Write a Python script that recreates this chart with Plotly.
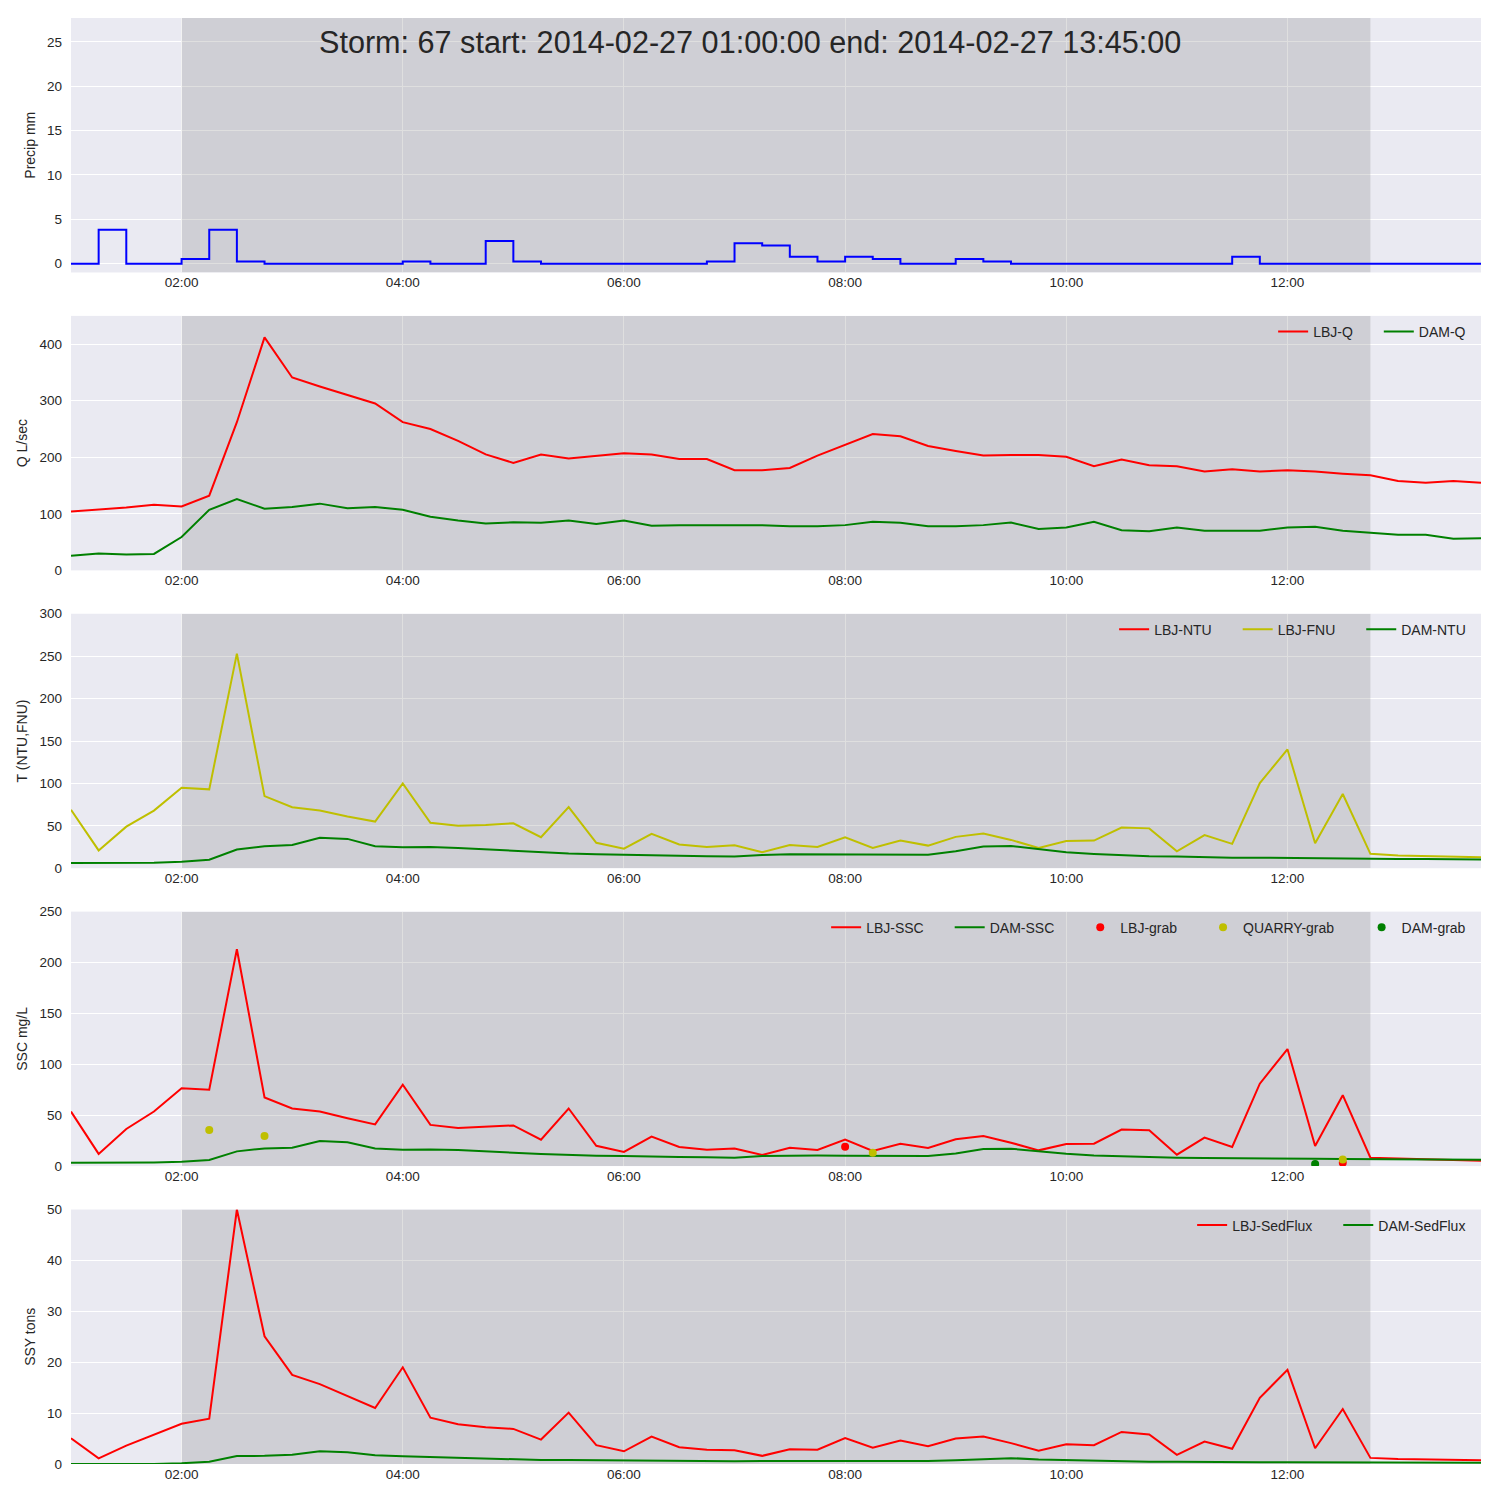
import pandas as pd
import plotly.graph_objects as go
from plotly.subplots import make_subplots

# 15 minute storm data, 2014-02-27 01:00 -> 13:45
times = pd.date_range('2014-02-27 01:00', '2014-02-27 13:45', freq='15min')

precip = [0, 3.81, 0, 0, 0.508, 3.81, 0.254, 0, 0, 0, 0, 0,
          0.254, 0, 0, 2.54, 0.254, 0, 0, 0, 0, 0, 0, 0.254,
          2.286, 2.032, 0.762, 0.254, 0.762, 0.508, 0, 0, 0.508, 0.254, 0, 0,
          0, 0, 0, 0, 0, 0, 0.762, 0, 0, 0, 0, 0, 0, 0, 0, 0]

lbj_q = [104, 107.5, 111, 116, 113, 132, 262, 412, 341, 325, 310, 295,
         262, 250, 229, 205, 190, 205, 198, 203, 207, 205, 197, 197,
         177, 177, 181, 203, 222, 241, 237, 220, 211, 203, 204, 204,
         201, 184, 196, 186, 184, 175, 179, 175, 177, 175, 171, 168,
         158, 155, 158, 155]
dam_q = [26, 30, 28, 29, 59, 107, 126, 109, 112, 118, 110, 112,
         107, 95, 88, 83, 85, 84, 88, 82, 88, 79, 80, 80,
         81, 80, 78, 78, 80, 86, 84, 78, 78, 80, 84.5, 73,
         76, 86, 71, 69, 76, 70, 70, 70, 76, 77, 70, 67,
         63, 63, 56, 57]

lbj_ntu = [None] * len(times)
lbj_fnu = [69, 21, 49, 68, 95, 93, 253, 85, 72, 68, 61, 55,
           100, 53.5, 50, 51, 53, 36.6, 72, 30, 23, 40.5, 28, 25,
           27, 19, 27.5, 25, 36.6, 24, 32.6, 26.7, 37, 41, 33.4, 24,
           32, 32.6, 48, 47, 20, 39, 28.7, 100.5, 140, 29.5, 87.5, 17,
           15, 14.5, 14, 13]
dam_ntu = [6.2, 6.2, 6.2, 6.6, 7.8, 10, 22, 26, 27.5, 36, 34.6, 26,
           24.7, 25, 24, 22.4, 20.4, 18.4, 17.3, 16.5, 15.7, 14.9, 14, 14,
           13.7, 15.7, 16.5, 16.5, 16.5, 15.7, 15.7, 16, 20, 25.5, 26.3, 22.8,
           19, 16.9, 15.3, 14, 13.7, 12.9, 12.5, 12.5, 12.1, 11.7, 11.3, 11.3,
           11, 11, 10.6, 10.2]

lbj_ssc = [53.6, 12, 36.5, 53.6, 76.6, 75, 213, 67.4, 56.6, 53.6, 47, 41,
           80, 40.5, 37.5, 38.5, 40, 26, 56.6, 20, 14, 29, 18.8, 16,
           17.4, 10.9, 18, 15.8, 26, 15, 22, 17.8, 26.3, 29.6, 23, 15.5,
           21.7, 22, 35.9, 35.2, 11.2, 28, 18.8, 81, 115, 19.7, 69.7, 8.2,
           7.2, 6.6, 5.9, 5.3]
dam_ssc = [3.3, 3.3, 3.3, 3.6, 4.3, 6, 14.5, 17.4, 18, 24.7, 23.4, 17.4,
           16, 16.4, 15.8, 14.8, 13.2, 11.8, 10.9, 10.2, 9.9, 9.2, 8.9, 8.6,
           8.2, 9.9, 10.5, 10.5, 10.2, 9.9, 9.5, 9.9, 12.5, 16.8, 17.1, 14.5,
           12.2, 10.5, 9.5, 8.9, 8.2, 7.9, 7.9, 7.6, 7.6, 7.2, 6.9, 6.9,
           6.9, 6.6, 6.3, 6.3]

lbj_grab_t = ['2014-02-27 08:00', '2014-02-27 12:30']
lbj_grab = [19, 3.3]
quarry_grab_t = ['2014-02-27 02:15', '2014-02-27 02:45', '2014-02-27 08:15', '2014-02-27 12:30']
quarry_grab = [35.5, 29.6, 13.2, 6.6]
dam_grab_t = ['2014-02-27 12:15']
dam_grab = [2]

lbj_sedflux = [5.05, 1.1, 3.6, 5.8, 7.9, 8.9, 50, 25.1, 17.5, 15.7, 13.3, 11,
               19, 9.1, 7.8, 7.2, 6.9, 4.8, 10.1, 3.7, 2.5, 5.4, 3.3, 2.8,
               2.7, 1.6, 2.9, 2.8, 5.1, 3.2, 4.6, 3.5, 5.0, 5.4, 4.1, 2.6,
               3.9, 3.7, 6.3, 5.8, 1.8, 4.4, 3.0, 13, 18.5, 3.1, 10.8, 1.2,
               1.0, 0.9, 0.8, 0.76]
dam_sedflux = [0, 0, 0, 0, 0.15, 0.43, 1.55, 1.6, 1.8, 2.5, 2.3, 1.7,
               1.5, 1.35, 1.2, 1.1, 1.0, 0.8, 0.8, 0.75, 0.75, 0.6, 0.6, 0.56,
               0.56, 0.6, 0.6, 0.6, 0.6, 0.6, 0.6, 0.6, 0.75, 1.0, 1.15, 0.9,
               0.75, 0.7, 0.5, 0.43, 0.43, 0.36, 0.36, 0.36, 0.36, 0.36, 0.3, 0.3,
               0.3, 0.23, 0.23, 0.23]

storm_start = '2014-02-27 02:00'
storm_end = '2014-02-27 12:45'
title = 'Storm: 67 start: 2014-02-27 01:00:00 end: 2014-02-27 13:45:00'

RED, GREEN, YEL, BLUE = '#FF0000', '#008000', '#BFBF00', '#0000FF'
TXT = '#262626'
LEG_FONT = 14

# rough Arial advance widths (per 1000 em), used to space legend entries like matplotlib
AW = {'L': 556, 'B': 667, 'J': 500, 'Q': 778, 'D': 722, 'A': 667, 'M': 833, 'N': 722,
      'T': 611, 'U': 722, 'F': 611, 'S': 667, 'C': 722, 'R': 722, 'Y': 667, '-': 333,
      'g': 556, 'r': 333, 'a': 556, 'b': 556, 'e': 556, 'd': 556, 'l': 222, 'u': 556, 'x': 500}


def lw(name, last=False):
    w = sum(AW.get(c, 556) for c in name) * LEG_FONT / 1000
    return w if last else w + 21


def line(x, y, name, color, leg, last=False):
    return go.Scatter(x=x, y=y, name=name, mode='lines', line=dict(color=color, width=2),
                      legend=leg, legendwidth=lw(name, last))


def dots(x, y, name, color, leg, last=False):
    return go.Scatter(x=pd.to_datetime(x), y=y, name=name, mode='markers',
                      marker=dict(color=color, size=8), legend=leg, legendwidth=lw(name, last))


fig = make_subplots(rows=5, cols=1, vertical_spacing=0.03)

fig.add_trace(go.Scatter(x=times, y=precip, mode='lines', line=dict(color=BLUE, width=2, shape='hv'),
                         showlegend=False), row=1, col=1)

fig.add_trace(line(times, lbj_q, 'LBJ-Q', RED, 'legend'), row=2, col=1)
fig.add_trace(line(times, dam_q, 'DAM-Q', GREEN, 'legend', True), row=2, col=1)

fig.add_trace(line(times, lbj_ntu, 'LBJ-NTU', RED, 'legend2'), row=3, col=1)
fig.add_trace(line(times, lbj_fnu, 'LBJ-FNU', YEL, 'legend2'), row=3, col=1)
fig.add_trace(line(times, dam_ntu, 'DAM-NTU', GREEN, 'legend2', True), row=3, col=1)

fig.add_trace(line(times, lbj_ssc, 'LBJ-SSC', RED, 'legend3'), row=4, col=1)
fig.add_trace(line(times, dam_ssc, 'DAM-SSC', GREEN, 'legend3'), row=4, col=1)
fig.add_trace(dots(lbj_grab_t, lbj_grab, 'LBJ-grab', RED, 'legend3'), row=4, col=1)
fig.add_trace(dots(quarry_grab_t, quarry_grab, 'QUARRY-grab', YEL, 'legend3'), row=4, col=1)
fig.add_trace(dots(dam_grab_t, dam_grab, 'DAM-grab', GREEN, 'legend3', True), row=4, col=1)

fig.add_trace(line(times, lbj_sedflux, 'LBJ-SedFlux', RED, 'legend4'), row=5, col=1)
fig.add_trace(line(times, dam_sedflux, 'DAM-SedFlux', GREEN, 'legend4', True), row=5, col=1)

ylabels = ['Precip mm', 'Q L/sec', 'T (NTU,FNU)', 'SSC mg/L', 'SSY tons']
yranges = [[-1, 27.7], [0, 450], [0, 300], [0, 250], [0, 50]]
ydticks = [5, 100, 50, 50, 10]

# storm window shading: over the grid, under the lines
for r in range(1, 6):
    fig.add_shape(type='rect', x0=storm_start, x1=storm_end, y0=yranges[r - 1][0], y1=yranges[r - 1][1],
                  fillcolor='rgba(128,128,128,0.25)', line_width=0, layer='between', row=r, col=1)

for r in range(1, 6):
    fig.update_yaxes(title=dict(text=ylabels[r - 1], font=dict(size=14, color=TXT), standoff=8),
                     range=yranges[r - 1], dtick=ydticks[r - 1], row=r, col=1)
    fig.update_xaxes(range=[times[0], times[-1]], dtick=2 * 3600 * 1000, tick0='2014-02-27 00:00',
                     tickformat='%H:%M', row=r, col=1)

fig.update_xaxes(showgrid=True, gridcolor='white', gridwidth=1, zeroline=False, showline=False,
                 ticks='', tickfont=dict(size=13.5, color=TXT), automargin=False)
fig.update_yaxes(showgrid=True, gridcolor='white', gridwidth=1, zeroline=False, showline=False,
                 ticks='', tickfont=dict(size=13.5, color=TXT), ticklabelstandoff=8, automargin=False)

leg = dict(orientation='h', x=0.993, xanchor='right', yanchor='top', bgcolor='rgba(0,0,0,0)',
           font=dict(size=LEG_FONT, color=TXT))
fig.update_layout(
    width=1500, height=1500,
    margin=dict(l=63, r=27, t=10, b=44),
    paper_bgcolor='white', plot_bgcolor='#EAEAF2',
    font=dict(family='Liberation Sans, Arial, sans-serif', color=TXT),
    legend=dict(leg, y=0.794),
    legend2=dict(leg, y=0.588),
    legend3=dict(leg, y=0.382),
    legend4=dict(leg, y=0.176),
)

fig.add_annotation(text=title, xref='paper', yref='paper', x=0.4816, y=0.9834,
                   xanchor='center', yanchor='middle', showarrow=False,
                   font=dict(size=30.6, color=TXT))

fig.write_html('out.html')
